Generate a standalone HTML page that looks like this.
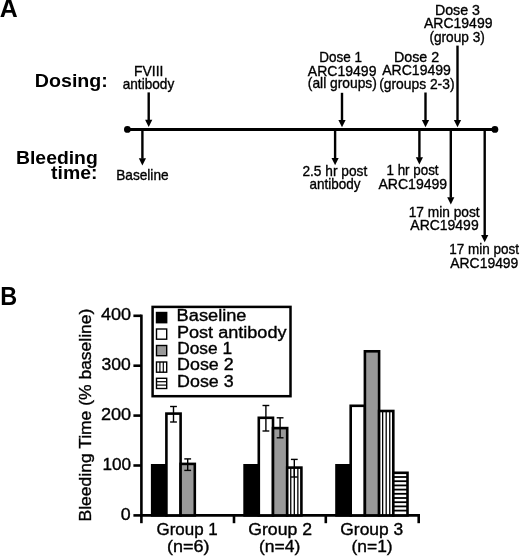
<!DOCTYPE html>
<html><head><meta charset="utf-8"><style>
html,body{margin:0;padding:0;background:#fff;}
svg{display:block;}
text{-webkit-font-smoothing:antialiased;}
svg{filter:grayscale(1);}
text{font-family:"Liberation Sans",sans-serif;fill:#000;}
text.r{stroke:#000;stroke-width:0.35px;}
</style></head><body>
<svg width="520" height="556" viewBox="0 0 520 556">
<defs><pattern id="vs" patternUnits="userSpaceOnUse" x="0" y="0" width="3.55" height="10"><rect width="3.55" height="10" fill="#fff"/><rect x="0" y="0" width="1.3" height="10" fill="#000"/></pattern><pattern id="hs" patternUnits="userSpaceOnUse" x="0" y="0" width="10" height="4.1"><rect width="10" height="4.1" fill="#fff"/><rect x="0" y="0" width="10" height="1.8" fill="#000"/></pattern></defs>
<rect width="520" height="556" fill="#fff"/>
<line x1="127.4" y1="129.4" x2="494.9" y2="129.4" stroke="#000" stroke-width="3"/>
<circle cx="127.4" cy="129.4" r="3.4" fill="#000"/>
<circle cx="494.9" cy="129.4" r="3.4" fill="#000"/>
<line x1="148.7" y1="92.4" x2="148.7" y2="120.2" stroke="#000" stroke-width="2.4"/>
<polygon points="145.1,119.7 152.29999999999998,119.7 148.7,127.0" fill="#000"/>
<line x1="342.0" y1="92.8" x2="342.0" y2="120.5" stroke="#000" stroke-width="2.4"/>
<polygon points="338.4,120.0 345.6,120.0 342.0,127.3" fill="#000"/>
<line x1="425.5" y1="92.5" x2="425.5" y2="120.5" stroke="#000" stroke-width="2.4"/>
<polygon points="421.9,120.0 429.1,120.0 425.5,127.3" fill="#000"/>
<line x1="457.5" y1="45.6" x2="457.5" y2="120.5" stroke="#000" stroke-width="2.4"/>
<polygon points="453.9,120.0 461.1,120.0 457.5,127.3" fill="#000"/>
<line x1="142.4" y1="129.4" x2="142.4" y2="158.7" stroke="#000" stroke-width="2.4"/>
<polygon points="138.8,158.2 146.0,158.2 142.4,165.5" fill="#000"/>
<line x1="335.1" y1="129.4" x2="335.1" y2="158.39999999999998" stroke="#000" stroke-width="2.4"/>
<polygon points="331.5,157.89999999999998 338.70000000000005,157.89999999999998 335.1,165.2" fill="#000"/>
<line x1="419.4" y1="129.4" x2="419.4" y2="157.79999999999998" stroke="#000" stroke-width="2.4"/>
<polygon points="415.79999999999995,157.29999999999998 423.0,157.29999999999998 419.4,164.6" fill="#000"/>
<line x1="450.8" y1="129.4" x2="450.8" y2="197.7" stroke="#000" stroke-width="2.4"/>
<polygon points="447.2,197.2 454.40000000000003,197.2 450.8,204.5" fill="#000"/>
<line x1="484.7" y1="129.4" x2="484.7" y2="235.5" stroke="#000" stroke-width="2.4"/>
<polygon points="481.09999999999997,235.0 488.3,235.0 484.7,242.3" fill="#000"/>
<line x1="141.4" y1="314.6" x2="141.4" y2="523.2" stroke="#000" stroke-width="2.6"/>
<line x1="133.4" y1="515.4" x2="141.4" y2="515.4" stroke="#000" stroke-width="2.6"/>
<line x1="133.4" y1="465.5" x2="141.4" y2="465.5" stroke="#000" stroke-width="2.6"/>
<line x1="133.4" y1="415.59999999999997" x2="141.4" y2="415.59999999999997" stroke="#000" stroke-width="2.6"/>
<line x1="133.4" y1="365.7" x2="141.4" y2="365.7" stroke="#000" stroke-width="2.6"/>
<line x1="133.4" y1="315.79999999999995" x2="141.4" y2="315.79999999999995" stroke="#000" stroke-width="2.6"/>
<line x1="140.1" y1="515.4" x2="420.0" y2="515.4" stroke="#000" stroke-width="2.6"/>
<line x1="234.0" y1="515.4" x2="234.0" y2="523.2" stroke="#000" stroke-width="2.6"/>
<line x1="325.8" y1="515.4" x2="325.8" y2="523.2" stroke="#000" stroke-width="2.6"/>
<line x1="418.7" y1="515.4" x2="418.7" y2="523.2" stroke="#000" stroke-width="2.6"/>
<rect x="152.6" y="306.9" width="137.9" height="89.3" fill="#fff" stroke="#000" stroke-width="2.5"/>
<rect x="152.20" y="465.30" width="14.20" height="50.10" fill="#000" stroke="#000" stroke-width="2.6"/>
<rect x="166.40" y="413.60" width="14.20" height="101.80" fill="#fff" stroke="#000" stroke-width="2.6"/>
<line x1="173.50" y1="406.5" x2="173.50" y2="422.0" stroke="#000" stroke-width="1.4"/>
<line x1="170.10" y1="406.5" x2="176.90" y2="406.5" stroke="#000" stroke-width="1.4"/>
<line x1="170.10" y1="422.0" x2="176.90" y2="422.0" stroke="#000" stroke-width="1.4"/>
<rect x="180.60" y="463.90" width="14.20" height="51.50" fill="#999999" stroke="#000" stroke-width="2.6"/>
<line x1="187.70" y1="458.9" x2="187.70" y2="470.4" stroke="#000" stroke-width="1.4"/>
<line x1="184.30" y1="458.9" x2="191.10" y2="458.9" stroke="#000" stroke-width="1.4"/>
<line x1="184.30" y1="470.4" x2="191.10" y2="470.4" stroke="#000" stroke-width="1.4"/>
<rect x="244.60" y="465.30" width="14.20" height="50.10" fill="#000" stroke="#000" stroke-width="2.6"/>
<rect x="258.80" y="417.80" width="14.20" height="97.60" fill="#fff" stroke="#000" stroke-width="2.6"/>
<line x1="265.90" y1="405.5" x2="265.90" y2="431.0" stroke="#000" stroke-width="1.4"/>
<line x1="262.50" y1="405.5" x2="269.30" y2="405.5" stroke="#000" stroke-width="1.4"/>
<line x1="262.50" y1="431.0" x2="269.30" y2="431.0" stroke="#000" stroke-width="1.4"/>
<rect x="273.00" y="428.10" width="14.20" height="87.30" fill="#999999" stroke="#000" stroke-width="2.6"/>
<line x1="280.10" y1="417.8" x2="280.10" y2="437.8" stroke="#000" stroke-width="1.4"/>
<line x1="276.70" y1="417.8" x2="283.50" y2="417.8" stroke="#000" stroke-width="1.4"/>
<line x1="276.70" y1="437.8" x2="283.50" y2="437.8" stroke="#000" stroke-width="1.4"/>
<rect x="287.20" y="467.60" width="14.20" height="47.80" fill="#fff" stroke="#000" stroke-width="2.6"/>
<line x1="290.75" y1="467.60" x2="290.75" y2="515.40" stroke="#000" stroke-width="1.3"/>
<line x1="294.30" y1="467.60" x2="294.30" y2="515.40" stroke="#000" stroke-width="1.3"/>
<line x1="297.85" y1="467.60" x2="297.85" y2="515.40" stroke="#000" stroke-width="1.3"/>
<line x1="294.30" y1="459.4" x2="294.30" y2="477.0" stroke="#000" stroke-width="1.4"/>
<line x1="290.90" y1="459.4" x2="297.70" y2="459.4" stroke="#000" stroke-width="1.4"/>
<line x1="290.90" y1="477.0" x2="297.70" y2="477.0" stroke="#000" stroke-width="1.4"/>
<rect x="336.50" y="465.30" width="14.20" height="50.10" fill="#000" stroke="#000" stroke-width="2.6"/>
<rect x="350.70" y="405.80" width="14.20" height="109.60" fill="#fff" stroke="#000" stroke-width="2.6"/>
<rect x="364.90" y="351.30" width="14.20" height="164.10" fill="#999999" stroke="#000" stroke-width="2.6"/>
<rect x="379.10" y="411.00" width="14.20" height="104.40" fill="#fff" stroke="#000" stroke-width="2.6"/>
<line x1="382.65" y1="411.00" x2="382.65" y2="515.40" stroke="#000" stroke-width="1.3"/>
<line x1="386.20" y1="411.00" x2="386.20" y2="515.40" stroke="#000" stroke-width="1.3"/>
<line x1="389.75" y1="411.00" x2="389.75" y2="515.40" stroke="#000" stroke-width="1.3"/>
<rect x="393.30" y="472.80" width="14.20" height="42.60" fill="#fff" stroke="#000" stroke-width="2.6"/>
<line x1="393.30" y1="477.00" x2="407.50" y2="477.00" stroke="#000" stroke-width="1.8"/>
<line x1="393.30" y1="481.20" x2="407.50" y2="481.20" stroke="#000" stroke-width="1.8"/>
<line x1="393.30" y1="485.40" x2="407.50" y2="485.40" stroke="#000" stroke-width="1.8"/>
<line x1="393.30" y1="489.60" x2="407.50" y2="489.60" stroke="#000" stroke-width="1.8"/>
<line x1="393.30" y1="493.80" x2="407.50" y2="493.80" stroke="#000" stroke-width="1.8"/>
<line x1="393.30" y1="498.00" x2="407.50" y2="498.00" stroke="#000" stroke-width="1.8"/>
<line x1="393.30" y1="502.20" x2="407.50" y2="502.20" stroke="#000" stroke-width="1.8"/>
<line x1="393.30" y1="506.40" x2="407.50" y2="506.40" stroke="#000" stroke-width="1.8"/>
<line x1="393.30" y1="510.60" x2="407.50" y2="510.60" stroke="#000" stroke-width="1.8"/>
<rect x="156.5" y="312.5" width="10.2" height="10.2" fill="#000" stroke="#000" stroke-width="1.4"/>
<rect x="156.5" y="329.0" width="10.2" height="10.2" fill="#fff" stroke="#000" stroke-width="1.4"/>
<rect x="156.5" y="345.5" width="10.2" height="10.2" fill="#999999" stroke="#000" stroke-width="1.4"/>
<rect x="156.5" y="362.0" width="10.2" height="10.2" fill="#fff" stroke="#000" stroke-width="1.4"/>
<line x1="159.90" y1="362.0" x2="159.90" y2="372.2" stroke="#000" stroke-width="1.2"/>
<line x1="163.30" y1="362.0" x2="163.30" y2="372.2" stroke="#000" stroke-width="1.2"/>
<rect x="156.5" y="378.3" width="10.2" height="10.2" fill="#fff" stroke="#000" stroke-width="1.4"/>
<line x1="156.5" y1="381.70" x2="166.7" y2="381.70" stroke="#000" stroke-width="1.2"/>
<line x1="156.5" y1="385.10" x2="166.7" y2="385.10" stroke="#000" stroke-width="1.2"/>
<text x="-0.32" y="16.60" font-size="25" font-weight="bold" textLength="17.98" lengthAdjust="spacingAndGlyphs">A</text>
<text x="34.89" y="86.50" font-size="19.2" font-weight="bold" textLength="73.00" lengthAdjust="spacingAndGlyphs">Dosing:</text>
<text x="16.00" y="163.50" font-size="19.2" font-weight="bold" textLength="81.79" lengthAdjust="spacingAndGlyphs">Bleeding</text>
<text x="51.06" y="179.40" font-size="19.2" font-weight="bold" textLength="46.41" lengthAdjust="spacingAndGlyphs">time:</text>
<text class="r" x="134.06" y="75.90" font-size="14.6" font-weight="normal" textLength="29.32" lengthAdjust="spacingAndGlyphs">FVIII</text>
<text class="r" x="122.72" y="88.60" font-size="14.6" font-weight="normal" textLength="51.51" lengthAdjust="spacingAndGlyphs">antibody</text>
<text class="r" x="319.29" y="62.00" font-size="14.6" font-weight="normal" textLength="42.77" lengthAdjust="spacingAndGlyphs">Dose 1</text>
<text class="r" x="307.77" y="75.50" font-size="14.6" font-weight="normal" textLength="68.69" lengthAdjust="spacingAndGlyphs">ARC19499</text>
<text class="r" x="307.84" y="88.40" font-size="14.6" font-weight="normal" textLength="69.01" lengthAdjust="spacingAndGlyphs">(all groups)</text>
<text class="r" x="394.03" y="62.00" font-size="14.6" font-weight="normal" textLength="45.19" lengthAdjust="spacingAndGlyphs">Dose 2</text>
<text class="r" x="382.27" y="75.40" font-size="14.6" font-weight="normal" textLength="68.59" lengthAdjust="spacingAndGlyphs">ARC19499</text>
<text class="r" x="379.14" y="89.00" font-size="14.6" font-weight="normal" textLength="75.42" lengthAdjust="spacingAndGlyphs">(groups 2-3)</text>
<text class="r" x="434.93" y="14.50" font-size="14.6" font-weight="normal" textLength="45.09" lengthAdjust="spacingAndGlyphs">Dose 3</text>
<text class="r" x="423.97" y="28.00" font-size="14.6" font-weight="normal" textLength="68.49" lengthAdjust="spacingAndGlyphs">ARC19499</text>
<text class="r" x="429.45" y="41.60" font-size="14.6" font-weight="normal" textLength="55.39" lengthAdjust="spacingAndGlyphs">(group 3)</text>
<text class="r" x="116.18" y="179.60" font-size="14.6" font-weight="normal" textLength="52.43" lengthAdjust="spacingAndGlyphs">Baseline</text>
<text class="r" x="302.41" y="176.00" font-size="14.6" font-weight="normal" textLength="64.79" lengthAdjust="spacingAndGlyphs">2.5 hr post</text>
<text class="r" x="309.43" y="188.50" font-size="14.6" font-weight="normal" textLength="51.00" lengthAdjust="spacingAndGlyphs">antibody</text>
<text class="r" x="386.48" y="175.40" font-size="14.6" font-weight="normal" textLength="52.12" lengthAdjust="spacingAndGlyphs">1 hr post</text>
<text class="r" x="378.47" y="188.50" font-size="14.6" font-weight="normal" textLength="68.69" lengthAdjust="spacingAndGlyphs">ARC19499</text>
<text class="r" x="408.65" y="216.50" font-size="14.6" font-weight="normal" textLength="71.05" lengthAdjust="spacingAndGlyphs">17 min post</text>
<text class="r" x="410.37" y="229.60" font-size="14.6" font-weight="normal" textLength="68.29" lengthAdjust="spacingAndGlyphs">ARC19499</text>
<text class="r" x="449.27" y="254.30" font-size="14.6" font-weight="normal" textLength="69.73" lengthAdjust="spacingAndGlyphs">17 min post</text>
<text class="r" x="450.27" y="267.70" font-size="14.6" font-weight="normal" textLength="68.09" lengthAdjust="spacingAndGlyphs">ARC19499</text>
<text x="0.33" y="304.50" font-size="25" font-weight="bold" textLength="16.93" lengthAdjust="spacingAndGlyphs">B</text>
<text class="r" x="100.99" y="320.20" font-size="17" font-weight="normal" textLength="30.12" lengthAdjust="spacingAndGlyphs">400</text>
<text class="r" x="101.53" y="369.90" font-size="17" font-weight="normal" textLength="29.25" lengthAdjust="spacingAndGlyphs">300</text>
<text class="r" x="100.99" y="420.20" font-size="17" font-weight="normal" textLength="30.22" lengthAdjust="spacingAndGlyphs">200</text>
<text class="r" x="102.49" y="469.90" font-size="17" font-weight="normal" textLength="28.68" lengthAdjust="spacingAndGlyphs">100</text>
<text class="r" x="120.81" y="519.60" font-size="17" font-weight="normal" textLength="9.89" lengthAdjust="spacingAndGlyphs">0</text>
<text class="r" transform="translate(91.3,521.43) rotate(-90)" x="0" y="0" font-size="17" textLength="212.81" lengthAdjust="spacingAndGlyphs">Bleeding Time (% baseline)</text>
<text class="r" x="176.61" y="321.20" font-size="16" font-weight="normal" textLength="69.90" lengthAdjust="spacingAndGlyphs">Baseline</text>
<text class="r" x="176.92" y="337.50" font-size="16" font-weight="normal" textLength="109.62" lengthAdjust="spacingAndGlyphs">Post antibody</text>
<text class="r" x="177.18" y="353.90" font-size="16" font-weight="normal" textLength="54.87" lengthAdjust="spacingAndGlyphs">Dose 1</text>
<text class="r" x="177.14" y="370.30" font-size="16" font-weight="normal" textLength="56.56" lengthAdjust="spacingAndGlyphs">Dose 2</text>
<text class="r" x="177.14" y="386.50" font-size="16" font-weight="normal" textLength="56.44" lengthAdjust="spacingAndGlyphs">Dose 3</text>
<text class="r" x="156.55" y="534.90" font-size="16" font-weight="normal" textLength="61.18" lengthAdjust="spacingAndGlyphs">Group 1</text>
<text class="r" x="167.08" y="551.50" font-size="16" font-weight="normal" textLength="42.53" lengthAdjust="spacingAndGlyphs">(n=6)</text>
<text class="r" x="248.31" y="534.90" font-size="16" font-weight="normal" textLength="63.67" lengthAdjust="spacingAndGlyphs">Group 2</text>
<text class="r" x="258.91" y="551.50" font-size="16" font-weight="normal" textLength="41.37" lengthAdjust="spacingAndGlyphs">(n=4)</text>
<text class="r" x="340.33" y="534.90" font-size="16" font-weight="normal" textLength="62.84" lengthAdjust="spacingAndGlyphs">Group 3</text>
<text class="r" x="351.52" y="551.50" font-size="16" font-weight="normal" textLength="41.16" lengthAdjust="spacingAndGlyphs">(n=1)</text>
</svg>
</body></html>
